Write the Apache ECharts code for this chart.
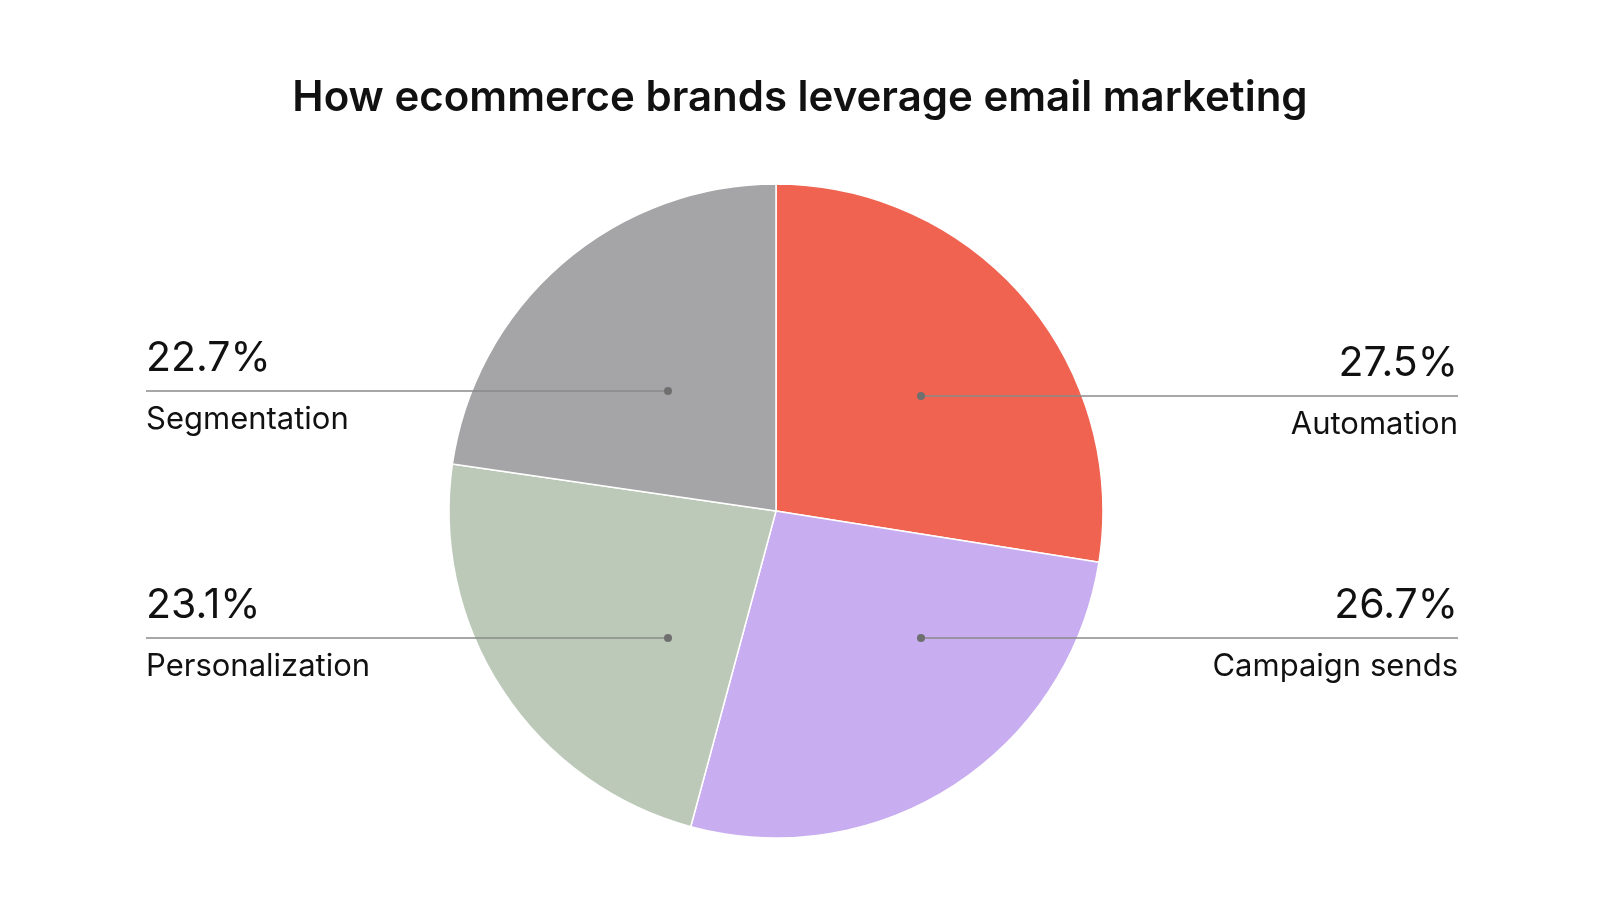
<!DOCTYPE html>
<html><head><meta charset="utf-8">
<script src="https://cdn.jsdelivr.net/npm/echarts@6/dist/echarts.min.js"></script>
<style>html,body{margin:0;padding:0;background:#fff}#c{width:1600px;height:901px}</style>
</head><body><div id="c"></div>
<script>
const categories = ['Automation', 'Campaign sends', 'Personalization', 'Segmentation'];
const values = [27.5, 26.7, 23.1, 22.7];
const colors = ['#EF6350', '#C8AEF0', '#BCC9B9', '#A5A5A7'];

const chart = echarts.init(document.getElementById('c'));
const F = 'Inter, "Noto Sans", sans-serif';
const k = 1.021;
const ann = [
  {dot:[921,396], side:'right'},
  {dot:[921,638], side:'right'},
  {dot:[668,638], side:'left'},
  {dot:[668,391], side:'left'}
];
const graphics = [];
ann.forEach((a,i)=>{
  const x1 = a.side==='left' ? 146 : 1458;
  const y = a.dot[1];
  graphics.push({type:'line', z:10, shape:{x1:x1,y1:y,x2:a.dot[0],y2:y}, style:{stroke:'#8a8a8a', lineWidth:1.5}});
  graphics.push({type:'circle', z:11, shape:{cx:a.dot[0],cy:y,r:4}, style:{fill:'#6f6f6f'}});
  graphics.push({type:'text', z:10, x:x1, y:y-12, style:{text:values[i].toFixed(1)+'%', font:'400 41px '+F, fill:'#111', align:a.side==='left'?'left':'right', verticalAlign:'bottom'}});
  graphics.push({type:'text', z:10, x:x1, y:y+13, style:{text:categories[i], font:'400 31px '+F, fill:'#111', align:a.side==='left'?'left':'right', verticalAlign:'top'}});
});
chart.setOption({
  animation:false,
  title:{text:'How ecommerce brands leverage email marketing', left:'center', top:72,
    textStyle:{fontFamily:F, fontSize:42, fontWeight:600, color:'#111'}},
  series:[{
    type:'pie', center:[776,511], radius:[0,327], startAngle:90, clockwise:true,
    label:{show:false}, labelLine:{show:false},
    itemStyle:{borderColor:'#fff', borderWidth:1.5},
    data: categories.map((c,i)=>({name:c, value:values[i], itemStyle:{color:colors[i]}}))
  }],
  graphic: graphics
});
</script></body></html>
